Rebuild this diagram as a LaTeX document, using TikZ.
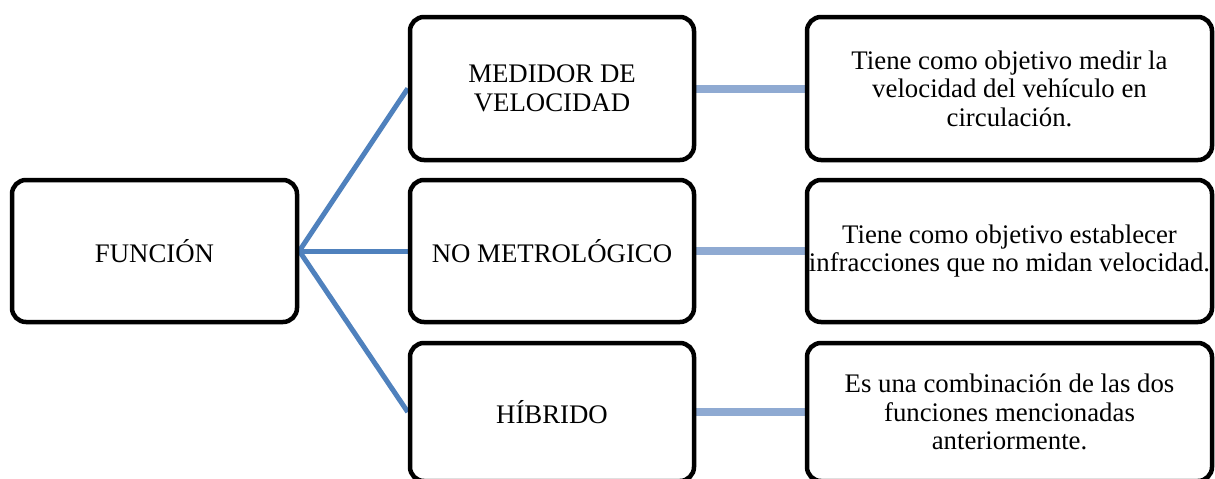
\documentclass[tikz,border=0pt]{standalone}
\usepackage{fontspec}
\setmainfont{Liberation Serif}
\usetikzlibrary{backgrounds}
\definecolor{darkline}{RGB}{79,129,189}
\definecolor{lightline}{RGB}{143,170,210}
\begin{document}
\begin{tikzpicture}[x=1pt,y=-1pt,
  box/.style={draw=black,line width=4.5pt,rounded corners=14pt,fill=white,inner sep=0pt,align=center,font=\fontsize{26.8}{28.5}\selectfont},
  midbox/.style={box,minimum width=284pt},
  rightbox/.style={box,minimum width=405pt},
  spoke/.style={draw=darkline,line width=5pt},
  link/.style={draw=lightline,line width=8pt}]
\useasboundingbox (0,0) rectangle (1215,479);
\clip (0,0) rectangle (1215,479);
\node[box,minimum width=285pt,minimum height=142pt] (f) at (154.5,251) {FUNCIÓN};
\node[midbox,minimum height=143pt] (m1) at (552,88.5) {MEDIDOR DE\\VELOCIDAD};
\node[midbox,minimum height=142pt] (m2) at (552,251) {NO METROLÓGICO};
\node[midbox,minimum height=138pt] (m3) at (552,412) {HÍBRIDO};
\node[rightbox,minimum height=143pt] (r1) at (1009.5,88.5) {Tiene como objetivo medir la\\velocidad del vehículo en\\circulación.};
\node[rightbox,minimum height=142pt] (r2) at (1009.5,251) {Tiene como objetivo establecer\\infracciones que no midan velocidad.};
\node[rightbox,minimum height=138pt] (r3) at (1009.5,412) {Es una combinación de las dos\\funciones mencionadas\\anteriormente.};
\begin{pgfonlayer}{background}
\draw[spoke] (f.east) -- (m1.west);
\draw[spoke] (f.east) -- (m2.west);
\draw[spoke] (f.east) -- (m3.west);
\draw[link] (m1.east) -- (r1.west);
\draw[link] (m2.east) -- (r2.west);
\draw[link] (m3.east) -- (r3.west);
\end{pgfonlayer}
\end{tikzpicture}
\end{document}
